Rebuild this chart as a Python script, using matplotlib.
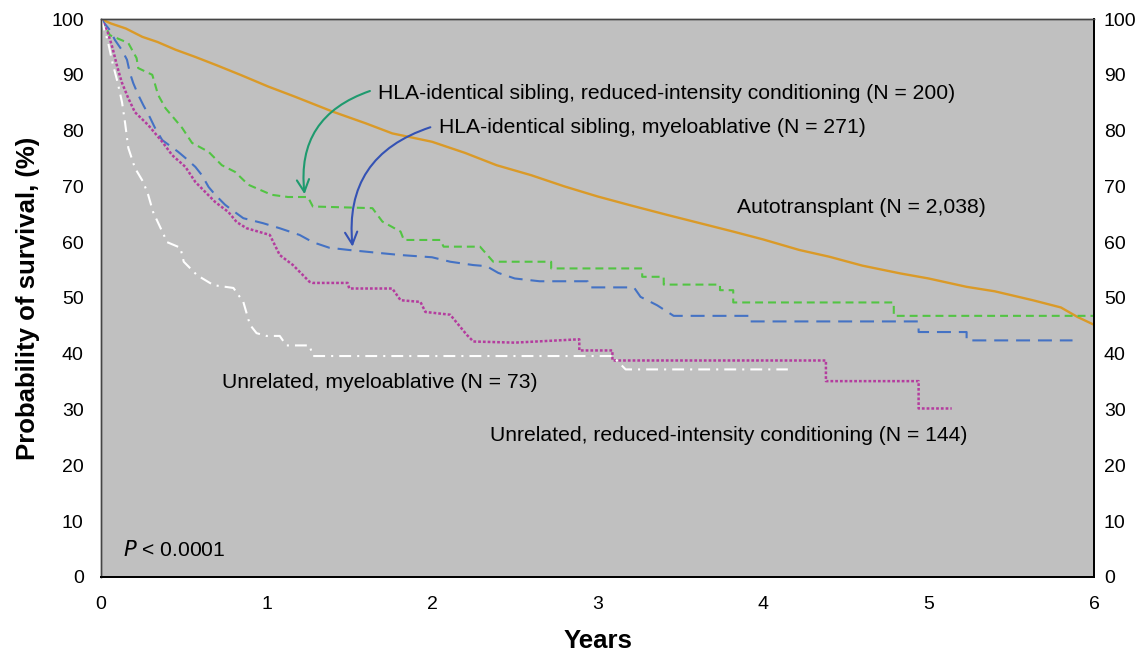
import matplotlib
matplotlib.use("Agg")
import matplotlib.pyplot as plt

plt.rcParams['font.family'] = ['Liberation Sans', 'DejaVu Sans']

# Autotransplant (N = 2,038)
auto_t = [0, 0.06, 0.15, 0.25, 0.34, 0.45, 0.57, 0.7, 0.85, 1.01, 1.17, 1.4, 1.6, 1.76, 2.0, 2.2,
          2.39, 2.6, 2.8, 3.0, 3.2, 3.42, 3.62, 3.82, 4.0, 4.22, 4.4, 4.6, 4.83, 5.0, 5.23, 5.4,
          5.63, 5.8, 5.9, 6.0]
auto_v = [100, 99.2, 98.3, 96.8, 95.9, 94.5, 93.2, 91.7, 89.9, 87.9, 86.1, 83.4, 81.3, 79.5, 78.0, 76.0,
          73.8, 72.0, 70.0, 68.2, 66.6, 64.9, 63.4, 61.9, 60.5, 58.6, 57.4, 55.8, 54.4, 53.5, 52.0, 51.2,
          49.6, 48.3, 46.6, 45.2]

# HLA-identical sibling, reduced-intensity conditioning (N = 200)
sib_ric_t = [0, 0.054, 0.165, 0.215, 0.225, 0.31, 0.345, 0.39, 0.49, 0.55, 0.65, 0.73, 0.81, 0.89,
             1.03, 1.13, 1.25, 1.28, 1.64, 1.70, 1.81, 1.83, 2.05, 2.07, 2.29, 2.37, 2.72, 2.72,
             3.27, 3.27, 3.40, 3.40, 3.74, 3.74, 3.82, 3.82, 4.79, 4.79, 6.0]
sib_ric_v = [100, 97.1, 95.7, 93, 91.2, 90, 86.4, 84, 80.5, 77.8, 76.2, 73.8, 72.6, 70.3,
             68.5, 68.1, 68.1, 66.4, 66.1, 63.7, 61.9, 60.4, 60.4, 59.2, 59.2, 56.5, 56.5, 55.3,
             55.3, 53.8, 53.8, 52.4, 52.4, 51.4, 51.4, 49.2, 49.2, 46.8, 46.8]

# HLA-identical sibling, myeloablative (N = 271)
sib_ma_t = [0, 0.054, 0.085, 0.127, 0.157, 0.175, 0.195, 0.225, 0.255, 0.295, 0.326, 0.37, 0.466,
            0.51, 0.57, 0.61, 0.65, 0.69, 0.75, 0.79, 0.86, 0.98, 1.08, 1.2, 1.28, 1.38, 1.5, 1.67,
            1.81, 2.0, 2.11, 2.25, 2.33, 2.4, 2.5, 2.65, 2.94, 2.95, 3.22, 3.26, 3.36, 3.46, 3.92,
            3.92, 4.94, 4.94, 5.23, 5.23, 5.87]
sib_ma_v = [100, 98, 96.2, 94.4, 92.7, 90.3, 88.5, 86.4, 84.6, 82.4, 80.5, 78.3, 76.2,
            75.1, 73.5, 72, 69.9, 68.5, 66.7, 65.8, 64.3, 63.4, 62.5, 61.3, 60.0, 59.0, 58.6, 58.1,
            57.7, 57.3, 56.5, 55.9, 55.7, 54.5, 53.5, 53.0, 53.0, 51.9, 51.9, 50.2, 48.7, 46.8, 46.8,
            45.8, 45.8, 43.9, 43.9, 42.4, 42.4]

# Unrelated, reduced-intensity conditioning (N = 144)
unr_ric_t = [0, 0.04, 0.07, 0.095, 0.125, 0.165, 0.205, 0.285, 0.37, 0.43, 0.51, 0.57, 0.63, 0.69,
             0.77, 0.82, 0.88, 1.02, 1.08, 1.16, 1.26, 1.28, 1.49, 1.5, 1.76, 1.81, 1.93, 1.96, 2.11,
             2.21, 2.25, 2.5, 2.89, 2.89, 3.09, 3.09, 4.38, 4.38, 4.94, 4.94, 5.14]
unr_ric_v = [100, 97.7, 94.8, 91.8, 88.7, 85.8, 83.3, 81, 78, 75.6, 73.5, 70.8, 69, 67.2,
             65.4, 63.6, 62.5, 61.3, 57.7, 55.9, 52.9, 52.7, 52.7, 51.7, 51.7, 49.6, 49.3, 47.5, 47.0,
             43.4, 42.2, 42.0, 42.6, 40.6, 40.6, 38.8, 38.8, 35.1, 35.1, 30.2, 30.2]

# Unrelated, myeloablative (N = 73)
unr_ma_t = [0, 0.04, 0.07, 0.10, 0.127, 0.145, 0.165, 0.205, 0.255, 0.285, 0.315, 0.4, 0.48, 0.5,
            0.58, 0.68, 0.8, 0.86, 0.9, 0.94, 1.0, 1.08, 1.12, 1.26, 1.28, 3.09, 3.17, 4.15]
unr_ma_v = [100, 96.2, 92.1, 88.7, 85.1, 81.5, 76.9, 73.3, 70.8, 68.5, 65.4, 60.0, 59.0, 56.5,
            54.1, 52.3, 51.8, 49.3, 45.2, 43.7, 43.2, 43.2, 41.5, 41.5, 39.6, 39.6, 37.2, 37.2]

x_ticks = [0, 1, 2, 3, 4, 5, 6]
y_ticks = [0, 10, 20, 30, 40, 50, 60, 70, 80, 90, 100]

fig = plt.figure(figsize=(11.45, 6.51), dpi=100)
ax = fig.add_axes([0.0882, 0.1137, 0.8673, 0.8571])
ax.set_facecolor('#c0c0c0')

ax.plot(auto_t, auto_v, color='#DA9A28', lw=1.7, solid_capstyle='butt')
ax.plot(sib_ric_t, sib_ric_v, color='#52C443', lw=1.5, linestyle=(0, (3.8, 2.4)))
ax.plot(sib_ma_t, sib_ma_v, color='#4472C4', lw=1.5, linestyle=(0, (6.7, 3.8)))
ax.plot(unr_ric_t, unr_ric_v, color='#B43C9E', lw=1.8, linestyle=(0, (1.1, 0.8)))
ax.plot(unr_ma_t, unr_ma_v, color='white', lw=1.5, linestyle=(0, (5.7, 2.9, 1.0, 2.9)))

ax.set_xlim(0, 6)
ax.set_ylim(0, 100)
ax.set_xticks(x_ticks)
ax.set_yticks(y_ticks)
ax.tick_params(axis='both', length=0, labelsize=14)
ax.tick_params(axis='x', pad=14)
ax.tick_params(axis='y', pad=12.5)

ax2 = ax.twinx()
ax2.set_ylim(0, 100)
ax2.set_yticks(y_ticks)
ax2.tick_params(axis='y', length=0, labelsize=14, pad=7)

for a in (ax, ax2):
    for s in ['top', 'left']:
        a.spines[s].set_color('#444444')
        a.spines[s].set_linewidth(1.0)
    for s in ['right', 'bottom']:
        a.spines[s].set_color('black')
        a.spines[s].set_linewidth(1.3)

ax.set_xlabel('Years', fontsize=18.5, fontweight='bold', labelpad=11)
ax.set_ylabel('Probability of survival, (%)', fontsize=18.5, fontweight='bold', labelpad=8)

fs = 15.2
ax.text(1.675, 86.7, 'HLA-identical sibling, reduced-intensity conditioning (N = 200)',
        fontsize=fs, va='center', ha='left')
ax.text(2.04, 80.5, 'HLA-identical sibling, myeloablative (N = 271)',
        fontsize=fs, va='center', ha='left')
ax.text(3.84, 66.3, 'Autotransplant (N = 2,038)', fontsize=fs, va='center', ha='left')
ax.text(0.73, 34.8, 'Unrelated, myeloablative (N = 73)', fontsize=fs, va='center', ha='left')
ax.text(2.35, 25.3, 'Unrelated, reduced-intensity conditioning (N = 144)',
        fontsize=fs, va='center', ha='left')
ax.text(0.13, 4.8, r'$\it{P}$ < 0.0001', fontsize=fs, va='center', ha='left')

ax.annotate('', xy=(1.23, 68.6), xytext=(1.625, 87.1),
            arrowprops=dict(arrowstyle='->', color='#1E9A6E', lw=1.5,
                            connectionstyle='arc3,rad=0.4', mutation_scale=22,
                            shrinkA=0, shrinkB=0))
ax.annotate('', xy=(1.52, 59.2), xytext=(1.99, 80.6),
            arrowprops=dict(arrowstyle='->', color='#3452B4', lw=1.5,
                            connectionstyle='arc3,rad=0.4', mutation_scale=22,
                            shrinkA=0, shrinkB=0))

fig.savefig('out.png', dpi=100, facecolor='white')
